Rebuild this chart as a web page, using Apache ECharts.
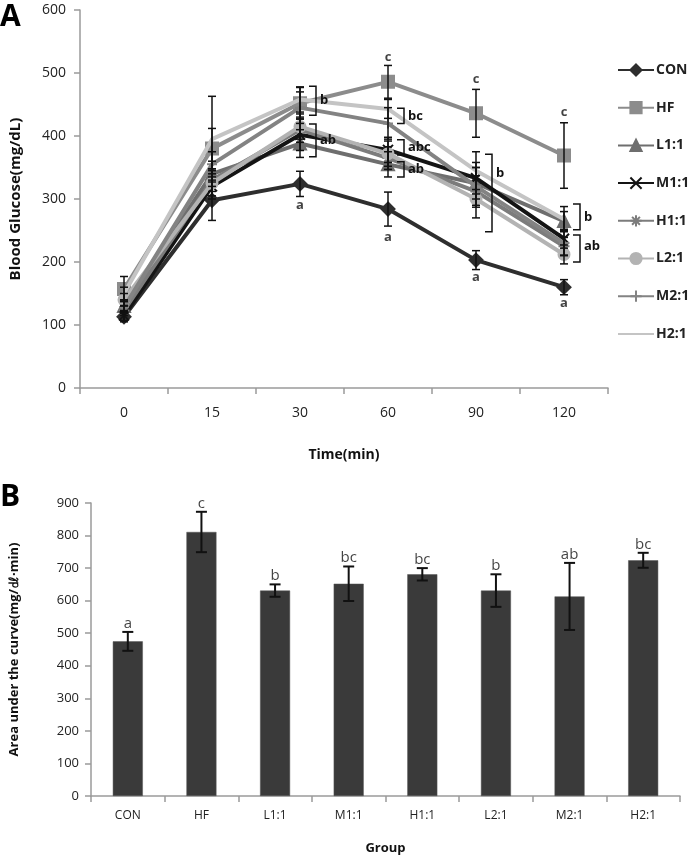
<!DOCTYPE html>
<html>
<head>
<meta charset="utf-8">
<script src="https://cdn.jsdelivr.net/npm/echarts@6/dist/echarts.min.js"></script>
<style>html,body{margin:0;padding:0;background:#fff;}#c{width:693px;height:857px;}</style>
</head>
<body>
<div id="c"></div>
<script>
// ---- Panel A data ----
var times = ['0', '15', '30', '60', '90', '120'];
var yTicksA = [0, 600, 100];
var con = [113, 298, 324, 284, 203, 160];
var hf  = [157, 380, 452, 486, 436, 369];
var l11 = [130, 340, 388, 355, 325, 265];
var m11 = [115, 320, 402, 378, 333, 237];
var h11 = [123, 330, 410, 365, 312, 225];
var l21 = [140, 325, 415, 372, 300, 212];
var m21 = [128, 355, 445, 420, 320, 230];
var h21 = [150, 395, 458, 443, 345, 268];
var conErr = [8, 32, 20, 27, 15, 12];
var hfErr  = [20, 32, 25, 26, 38, 52];
var l11Err = [10, 20, 22, 20, 25, 15];
var m11Err = [8, 20, 25, 20, 25, 15];
var h11Err = [8, 18, 20, 18, 25, 14];
var l21Err = [10, 20, 20, 20, 30, 15];
var m21Err = [10, 20, 25, 25, 30, 20];
var h21Err = [10, 68, 20, 15, 30, 20];
var annoCat  = [2, 3, 4, 5, 3, 4, 5];
var annoVal  = [290, 240, 175, 135, 525, 490, 437];
var annoText = ['a', 'a', 'a', 'a', 'c', 'c', 'c'];
var brCat  = [2, 2, 3, 3, 3, 4, 5, 5];
var brTop  = [479, 419, 444, 394, 359, 371, 292, 243];
var brBot  = [433, 367, 420, 370, 335, 248, 251, 200];
var brLab  = [456, 393, 432, 382, 347, 341, 271, 225];
var brText = ['b', 'ab', 'bc', 'abc', 'ab', 'b', 'b', 'ab'];

// ---- Panel B data ----
var groups = ['CON', 'HF', 'L1:1', 'M1:1', 'H1:1', 'L2:1', 'M2:1', 'H2:1'];
var yTicksB = [0, 900, 100];
var auc    = [475, 811, 631, 652, 681, 631, 613, 724];
var aucErr = [29, 62, 19, 53, 19, 50, 103, 23];
var aucLetters = ['a', 'c', 'b', 'bc', 'bc', 'b', 'ab', 'bc'];

var FONT = 'Open Sans';
var chart = echarts.init(document.getElementById('c'), null, {renderer: 'canvas'});

var lineDefs = [
  {name: 'CON',  data: con, err: conErr, color: '#2e2e2e', symbol: 'diamond', size: 13},
  {name: 'HF',   data: hf,  err: hfErr,  color: '#8c8c8c', symbol: 'rect', size: 12},
  {name: 'L1:1', data: l11, err: l11Err, color: '#6e6e6e', symbol: 'triangle', size: 12},
  {name: 'M1:1', data: m11, err: m11Err, color: '#141414', symbol: 'path://M0,0L10,10M10,0L0,10', size: 10},
  {name: 'H1:1', data: h11, err: h11Err, color: '#7c7c7c', symbol: 'path://M5,0L5,10M0,5L10,5M1.5,1.5L8.5,8.5M8.5,1.5L1.5,8.5', size: 11},
  {name: 'L2:1', data: l21, err: l21Err, color: '#b3b3b3', symbol: 'circle', size: 11},
  {name: 'M2:1', data: m21, err: m21Err, color: '#838383', symbol: 'path://M5,0L5,10M0,5L10,5', size: 10},
  {name: 'H2:1', data: h21, err: h21Err, color: '#c4c4c4', symbol: 'none', size: 0}
];

function errRender(capW, lw) {
  return function (params, api) {
    var x = api.value(0), lo = api.value(1), hi = api.value(2);
    var p1 = api.coord([x, hi]);
    var p2 = api.coord([x, lo]);
    var st = {stroke: '#111', lineWidth: lw};
    return {type: 'group', children: [
      {type: 'line', shape: {x1: p1[0], y1: p1[1], x2: p2[0], y2: p2[1]}, style: st},
      {type: 'line', shape: {x1: p1[0] - capW / 2, y1: p1[1], x2: p1[0] + capW / 2, y2: p1[1]}, style: st},
      {type: 'line', shape: {x1: p2[0] - capW / 2, y1: p2[1], x2: p2[0] + capW / 2, y2: p2[1]}, style: st}
    ]};
  };
}

var series = [];
lineDefs.forEach(function (d, k) {
  series.push({
    type: 'line', name: d.name, xAxisIndex: 0, yAxisIndex: 0,
    data: d.data, symbol: d.symbol, symbolSize: d.size, showSymbol: d.symbol !== 'none',
    lineStyle: {color: d.color, width: 4},
    itemStyle: {color: d.color, borderColor: d.color, borderWidth: 2},
    z: 2 + k * 0.1, animation: false
  });
});
lineDefs.forEach(function (d) {
  series.push({
    type: 'custom', xAxisIndex: 0, yAxisIndex: 0, z: 4, animation: false, silent: true,
    renderItem: errRender(8, 1.5),
    data: d.data.map(function (v, i) { return [i, v - d.err[i], v + d.err[i]]; })
  });
});
// letters in panel A
series.push({
  type: 'scatter', xAxisIndex: 0, yAxisIndex: 0, symbolSize: 0, z: 6, animation: false, silent: true,
  data: annoCat.map(function (c, i) { return [c, annoVal[i], annoText[i]]; }),
  label: {show: true, position: 'inside', formatter: function (p) { return p.value[2]; },
    fontFamily: FONT, fontWeight: 'bold', fontSize: 13, color: '#111'}
});
// brackets
series.push({
  type: 'custom', xAxisIndex: 0, yAxisIndex: 0, z: 6, animation: false, silent: true,
  data: brCat.map(function (c, i) { return [c, brTop[i], brBot[i], brLab[i]]; }),
  renderItem: function (params, api) {
    var i = params.dataIndex;
    var c = api.value(0);
    var pt = api.coord([c, api.value(1)]);
    var pb = api.coord([c, api.value(2)]);
    var pl = api.coord([c, api.value(3)]);
    var bx = pt[0] + 16;
    return {type: 'group', children: [
      {type: 'polyline', shape: {points: [[bx - 7, pt[1]], [bx, pt[1]], [bx, pb[1]], [bx - 7, pb[1]]]},
        style: {stroke: '#111', lineWidth: 1.5, fill: null}},
      {type: 'text', x: bx + 4, y: pl[1], style: {text: brText[i], fontFamily: FONT, fontWeight: 'bold',
        fontSize: 13, fill: '#111', textVerticalAlign: 'middle', verticalAlign: 'middle'}}
    ]};
  }
});
// bars
series.push({
  type: 'bar', xAxisIndex: 1, yAxisIndex: 1, data: auc, barWidth: 30,
  itemStyle: {color: '#3a3a3a', borderColor: '#555', borderWidth: 0.5}, animation: false, silent: true
});
series.push({
  type: 'custom', xAxisIndex: 1, yAxisIndex: 1, z: 4, animation: false, silent: true,
  renderItem: errRender(11, 2),
  data: auc.map(function (v, i) { return [i, v - aucErr[i], v + aucErr[i]]; })
});
series.push({
  type: 'scatter', xAxisIndex: 1, yAxisIndex: 1, symbolSize: 0, z: 6, animation: false, silent: true,
  data: auc.map(function (v, i) { return [i, v + aucErr[i], aucLetters[i]]; }),
  label: {show: true, position: 'top', distance: 1, formatter: function (p) { return p.value[2]; },
    fontFamily: FONT, fontSize: 15, color: '#111'}
});

var axisLine = {show: true, lineStyle: {color: '#9a9a9a', width: 1.5}};
var axisTick = {show: true, length: 6, lineStyle: {color: '#9a9a9a', width: 1.5}};

var legendData = lineDefs.map(function (d) {
  return d.symbol === 'none' ? {name: d.name, itemStyle: {opacity: 0}} : {name: d.name};
});

var option = {
  backgroundColor: '#fff',
  animation: false,
  graphic: [
    {type: 'text', left: 0, top: 2, style: {text: 'A', fontFamily: FONT, fontWeight: 'bold', fontSize: 30, fill: '#000'}},
    {type: 'text', left: 0, top: 482, style: {text: 'B', fontFamily: FONT, fontWeight: 'bold', fontSize: 30, fill: '#000'}}
  ],
  legend: {
    data: legendData,
    orient: 'vertical', left: 612, top: 58, itemWidth: 36, itemHeight: 14, itemGap: 23.7,
    textStyle: {fontFamily: FONT, fontWeight: 'bold', fontSize: 14, color: '#222', padding: [0, 0, 0, -3]},
    selectedMode: false
  },
  grid: [
    {left: 76, right: 85, top: 10, height: 378},
    {left: 89, right: 13, top: 503, height: 293}
  ],
  xAxis: [
    {type: 'category', gridIndex: 0, data: times, boundaryGap: true,
      axisLine: axisLine, axisTick: axisTick,
      axisLabel: {fontFamily: FONT, fontSize: 14, color: '#222', margin: 18},
      name: 'Time(min)', nameLocation: 'middle', nameGap: 60,
      nameTextStyle: {fontFamily: FONT, fontWeight: 'bold', fontSize: 14, color: '#111'}},
    {type: 'category', gridIndex: 1, data: groups, boundaryGap: true,
      axisLine: axisLine, axisTick: axisTick,
      axisLabel: {fontFamily: FONT, fontSize: 12, color: '#222', margin: 14},
      name: 'Group', nameLocation: 'middle', nameGap: 46,
      nameTextStyle: {fontFamily: FONT, fontWeight: 'bold', fontSize: 13, color: '#111'}}
  ],
  yAxis: [
    {type: 'value', gridIndex: 0, min: yTicksA[0], max: yTicksA[1], interval: yTicksA[2],
      axisLine: axisLine, axisTick: axisTick, splitLine: {show: false},
      axisLabel: {fontFamily: FONT, fontSize: 14, color: '#222', margin: 14},
      name: 'Blood Glucose(mg/dL)', nameLocation: 'middle', nameGap: 57,
      nameTextStyle: {fontFamily: FONT, fontWeight: 'bold', fontSize: 15, color: '#111'}},
    {type: 'value', gridIndex: 1, min: yTicksB[0], max: yTicksB[1], interval: yTicksB[2],
      axisLine: axisLine, axisTick: axisTick, splitLine: {show: false},
      axisLabel: {fontFamily: FONT, fontSize: 13, color: '#222', margin: 12},
      name: 'Area under the curve(mg/\u3397\u00b7min)', nameLocation: 'middle', nameGap: 70,
      nameTextStyle: {fontFamily: FONT, fontWeight: 'bold', fontSize: 13, color: '#111'}}
  ],
  series: series
};
chart.setOption(option);
</script>
</body>
</html>
